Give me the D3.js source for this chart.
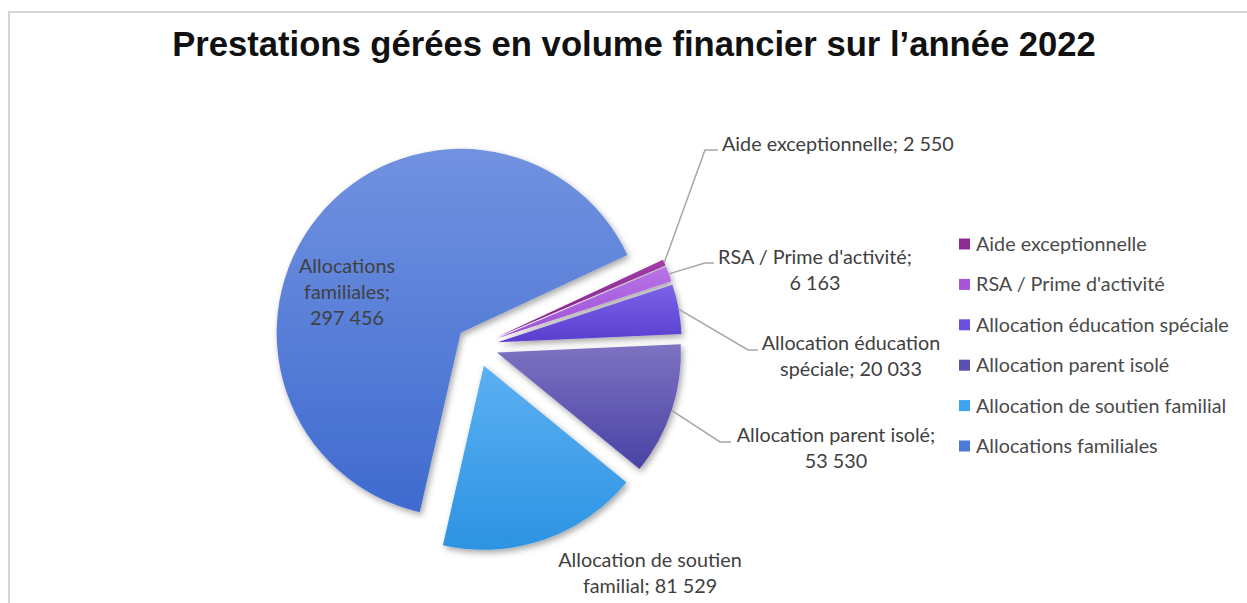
<!DOCTYPE html>
<html><head><meta charset="utf-8">
<script src="https://cdn.jsdelivr.net/npm/d3@7"></script>
<style>body{margin:0;background:#fff} svg{display:block}</style>
</head><body>
<svg id="chart" width="1247" height="603"></svg>
<script>
// ---------- data ----------
const title = "Prestations gérées en volume financier sur l’année 2022";
const categories = ["Aide exceptionnelle", "RSA / Prime d'activité", "Allocation éducation spéciale",
  "Allocation parent isolé", "Allocation de soutien familial", "Allocations familiales"];
const values = [2550, 6163, 20033, 53530, 81529, 297456];
const colorsTop = ["#a23ca8", "#b873e6", "#7b63e8", "#7d73c2", "#5cb0f2", "#7192e0"];
const colorsBottom = ["#80208a", "#9c4ed6", "#5a3ecf", "#4a42a4", "#2c93e3", "#3f6bcf"];
const colorsLegend = ["#8e2a93", "#a855d8", "#6a4fe0", "#5a50b0", "#3ba5f0", "#4d7ad8"];

// ---------- layout ----------
const W = 1247, H = 603;
const cx = 477, cy = 346, R = 184, explode = 21;
const startDeg = 65;
const labelFont = "Lato, 'Open Sans', sans-serif";
const labelLayout = [
  {x: 722, y: 144, anchor: "start", maxW: 320, elbow: [705, 718, 150]},
  {x: 815, y: 257, anchor: "middle", maxW: 215, elbow: [705, 714, 263]},
  {x: 851, y: 343, anchor: "middle", maxW: 215, elbow: [748, 758, 350]},
  {x: 836, y: 435, anchor: "middle", maxW: 230, elbow: [720, 731, 442]},
  {x: 650, y: 560, anchor: "middle", maxW: 215, elbow: null},
  {x: 347, y: 266, anchor: "middle", maxW: 130, elbow: null}
];
const lineH = 26;
const legendX = 959, legendY0 = 244, legendDY = 40.4, legendBox = 11;

const svg = d3.select("#chart");
const fmt = d3.formatLocale({decimal: ",", thousands: "\u00a0", grouping: [3], currency: ["", "€"]}).format(",d");

// calibrate fonts
const probe = svg.append("text").attr("font-family", labelFont).attr("font-size", 100)
  .text("Allocation éducation spéciale");
const labelSize = 100 * 253 / probe.node().getComputedTextLength();
probe.attr("font-family", "'Liberation Sans', Arial, sans-serif").attr("font-weight", "bold").text(title);
const titleSize = 100 * 924 / probe.node().getComputedTextLength();
probe.remove();

// frame
svg.append("path").attr("d", `M9,${H} L9,12 L${W},12`).attr("fill", "none")
  .attr("stroke", "#d6d6d6").attr("stroke-width", 2);

// title
svg.append("text").attr("x", 634).attr("y", 56).attr("text-anchor", "middle")
  .attr("font-family", "'Liberation Sans', Arial, sans-serif").attr("font-weight", "bold")
  .attr("font-size", titleSize).attr("fill", "#111").text(title);

// defs
const defs = svg.append("defs");
const f = defs.append("filter").attr("id", "shadow").attr("x", "-20%").attr("y", "-20%")
  .attr("width", "140%").attr("height", "140%");
f.append("feDropShadow").attr("dx", 2).attr("dy", 3).attr("stdDeviation", 3)
  .attr("flood-color", "#000").attr("flood-opacity", 0.35);
categories.forEach((c, i) => {
  const g = defs.append("linearGradient").attr("id", "g" + i).attr("x1", 0).attr("y1", 0).attr("x2", 0).attr("y2", 1);
  g.append("stop").attr("offset", "0%").attr("stop-color", colorsTop[i]);
  g.append("stop").attr("offset", "100%").attr("stop-color", colorsBottom[i]);
});

// pie
const data = categories.map((c, i) => ({cat: c, value: values[i], i}));
const start = startDeg * Math.PI / 180;
const pie = d3.pie().value(d => d.value).sort(null).startAngle(start).endAngle(start + 2 * Math.PI);
const arcs = pie(data);
const arc = d3.arc().innerRadius(0).outerRadius(R);
const offset = a => { const m = (a.startAngle + a.endAngle) / 2; return [Math.sin(m) * explode, -Math.cos(m) * explode]; };

const gp = svg.append("g").attr("transform", `translate(${cx},${cy})`);
gp.selectAll("path.slice").data(arcs).join("path").attr("class", "slice")
  .attr("transform", a => `translate(${offset(a)})`)
  .attr("d", arc)
  .attr("fill", a => `url(#g${a.data.i})`)
  .attr("filter", "url(#shadow)");

// leader lines
arcs.forEach(a => {
  const L = labelLayout[a.data.i];
  if (!L.elbow) return;
  const m = (a.startAngle + a.endAngle) / 2, o = offset(a);
  const px = cx + o[0] + Math.sin(m) * R, py = cy + o[1] - Math.cos(m) * R;
  svg.append("path").attr("d", `M${px},${py} L${L.elbow[0]},${L.elbow[2]} L${L.elbow[1]},${L.elbow[2]}`)
    .attr("fill", "none").attr("stroke", "#a6a6a6").attr("stroke-width", 1.5);
});

// data labels
arcs.forEach(a => {
  const L = labelLayout[a.data.i];
  const full = `${a.data.cat}; ${fmt(a.data.value)}`;
  const t = svg.append("text").attr("font-family", labelFont).attr("font-size", labelSize)
    .attr("fill", "#404040").attr("text-anchor", L.anchor);
  const words = full.split(" ");
  const lines = [];
  let cur = "";
  const meas = t.append("tspan");
  words.forEach(w => {
    const test = cur ? cur + " " + w : w;
    meas.text(test);
    if (cur && meas.node().getComputedTextLength() > L.maxW) { lines.push(cur); cur = w; }
    else cur = test;
  });
  lines.push(cur);
  meas.remove();
  lines.forEach((ln, k) => {
    t.append("tspan").attr("x", L.x).attr("y", L.y + k * lineH).attr("dy", "0.35em").text(ln);
  });
});

// legend
const lg = svg.append("g");
categories.forEach((c, i) => {
  const y = legendY0 + i * legendDY;
  lg.append("rect").attr("x", legendX).attr("y", y - legendBox / 2).attr("width", legendBox).attr("height", legendBox)
    .attr("fill", colorsLegend[i]);
  lg.append("text").attr("x", legendX + 17).attr("y", y).attr("dy", "0.35em")
    .attr("font-family", labelFont).attr("font-size", labelSize).attr("fill", "#4a4a4a").text(c);
});
</script>
</body></html>
